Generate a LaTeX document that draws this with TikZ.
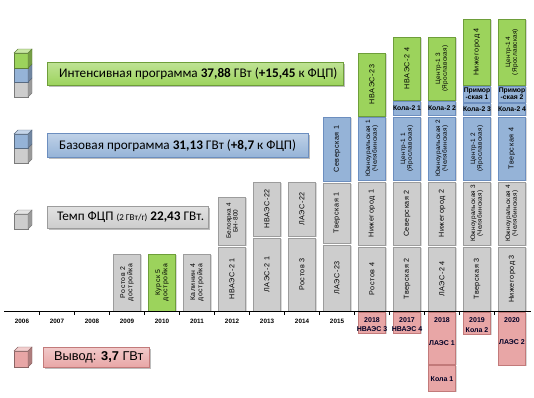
\documentclass[tikz,border=0pt]{standalone}
\usepackage{fontspec}
\setmainfont{Carlito}
\newfontfamily\arf{Liberation Sans}
\newfontfamily\colf[LetterSpace=8]{Liberation Sans}
\newfontfamily\colfs[LetterSpace=4]{Liberation Sans}
\usetikzlibrary{shadows}
\definecolor{gfill}{HTML}{9CD35C}
\definecolor{gdraw}{HTML}{6E9E3A}
\definecolor{bfill}{HTML}{95B3D7}
\definecolor{bdraw}{HTML}{6C8EBF}
\definecolor{sfill}{HTML}{CDCDCD}
\definecolor{sdraw}{HTML}{9C9C9C}
\definecolor{pfill}{HTML}{E8A6A6}
\definecolor{pdraw}{HTML}{C27A7A}
\tikzset{
 bx/.style={rectangle, inner sep=0pt, line width=0.6pt, drop shadow={shadow xshift=1.2pt, shadow yshift=-1.2pt, opacity=0.3}},
 gbx/.style={bx, fill=gfill, draw=gdraw},
 bbx/.style={bx, fill=bfill, draw=bdraw},
 sbx/.style={bx, fill=sfill, draw=sdraw},
 pbx/.style={bx, fill=pfill, draw=pdraw},
 lbx/.style={bx, drop shadow={shadow xshift=2pt, shadow yshift=-2pt, opacity=0.3}},
 coltext/.style={rotate=90, font=\colf\fontsize{7.2}{8}\selectfont, align=center, inner sep=0pt, text=black},
 coltextS/.style={rotate=90, font=\colfs\fontsize{6.4}{6.8}\selectfont, align=center, inner sep=0pt, text=black},
 coltextM/.style={rotate=90, font=\colf\fontsize{6.9}{7.2}\selectfont, align=center, inner sep=0pt, text=black},
 hortext/.style={font=\arf\bfseries\fontsize{6.8}{7}\selectfont, align=center, inner sep=0pt, text=black},
 yeartext/.style={font=\arf\bfseries\fontsize{6.3}{7}\selectfont, inner sep=0pt},
 pinktext/.style={font=\arf\bfseries\fontsize{7}{8}\selectfont, inner sep=0pt, text=black!85!blue},
 legtext/.style={font=\fontsize{13.2}{15}\selectfont, anchor=west, inner sep=0pt},
 cubeline/.style={line width=0.4pt}
}
\newcommand\mybar[7]{%
 \pgfmathsetmacro\mybarcy{(#3+#4)/2}%
 \pgfmathsetmacro\mybarhh{#4-#3}%
 \node[#5, minimum width=27pt, minimum height=\mybarhh pt] (#1) at (#2,\mybarcy) {};
 \node[#6] (#1t) at (#1.center) {#7};}
\newcommand\mycubefront[4]{%
 \filldraw[cubeline, fill=#4, draw=#4!60!black] (#1,#2) rectangle ++(14,#3);
 \filldraw[cubeline, fill=#4!75!black, draw=#4!60!black] (#1+14,#2) -- ++(4,-4) -- ++(0,#3) -- ++(-4,4) -- cycle;}
\newcommand\mycubetop[2]{%
 \filldraw[cubeline, fill=#2!55!white, draw=#2!60!black] (#1) -- ++(4,-4) -- ++(14,0) -- ++(-4,4) -- cycle;}
\begin{document}
\begin{tikzpicture}[x=1pt,y=-1pt]
\useasboundingbox (0,0) rectangle (534,397);
\fill[white] (0,0) rectangle (534,397);

% legend cubes
\mycubefront{14}{82}{15}{sfill}
\mycubefront{14}{68}{14}{bfill}
\mycubefront{14}{53}{15}{gfill}
\mycubetop{14,53}{gfill}
\mycubefront{14}{148}{15}{sfill}
\mycubefront{14}{134}{14}{bfill}
\mycubetop{14,134}{bfill}
\mycubefront{14}{214}{15}{sfill}
\mycubetop{14,214}{sfill}
\mycubefront{14}{351}{16}{pfill}
\mycubetop{14,351}{pfill}

% legend boxes
\node[lbx, draw=gdraw, top color=gfill!65!white, bottom color=gfill, minimum width=296pt, minimum height=23pt, anchor=north west] (lgI) at (47,62) {};
\node[legtext] (lgIt) at ([xshift=12pt]lgI.west) {Интенсивная программа \textbf{37,88} ГВт (\textbf{+15,45} к ФЦП)};
\node[lbx, draw=bdraw, top color=bfill!60!white, bottom color=bfill, minimum width=261pt, minimum height=24pt, anchor=north west] (lgB) at (47,133) {};
\node[legtext] (lgBt) at ([xshift=12pt]lgB.west) {Базовая программа \textbf{31,13} ГВт (\textbf{+8,7} к ФЦП)};
\node[lbx, draw=sdraw, top color=sfill!60!white, bottom color=sfill, minimum width=161pt, minimum height=22pt, anchor=north west] (lgT) at (47,206) {};
\node[legtext] (lgTt) at ([xshift=10pt]lgT.west) {Темп ФЦП {\fontsize{9}{9}\selectfont(2 ГВт/г)} \textbf{22,43} ГВт.};
\node[lbx, draw=pdraw, top color=pfill!60!white, bottom color=pfill, minimum width=106pt, minimum height=20pt, anchor=north west] (lgP) at (43,347) {};
\node[legtext, font=\arf\fontsize{12.8}{14}\selectfont] (lgPt) at ([xshift=11pt]lgP.west) {Вывод: \textbf{3,7} ГВт};

% columns
\mybar{c09a}{127}{254}{311}{sbx}{coltextM}{Ростов 2\\достройка}
\mybar{c10a}{162}{254}{311}{gbx}{coltextM}{Курск 5\\достройка}
\mybar{c11a}{197}{254}{311}{sbx}{coltextM}{Калинин 4\\достройка}
\mybar{c12a}{232}{247}{311}{sbx}{coltext}{НВАЭС-2 1}
\mybar{c12b}{232}{197}{245}{sbx}{coltextS}{Белоярка 4\\БН-800}
\mybar{c13a}{267}{238}{311}{sbx}{coltext}{ЛАЭС-2 1}
\mybar{c13b}{267}{182}{236}{sbx}{coltext}{НВАЭС-22}
\mybar{c14a}{302}{238}{311}{sbx}{coltext}{Ростов 3}
\mybar{c14b}{302}{182}{236}{sbx}{coltext}{ЛАЭС-22}
\mybar{c15a}{337}{245}{311}{sbx}{coltext}{ЛАЭС-23}
\mybar{c15b}{337}{183}{243}{sbx}{coltext}{Тверская 1}
\mybar{c15c}{337}{117}{181}{bbx}{coltext}{Северская 1}
\mybar{c16a}{372}{247}{311}{sbx}{coltext}{Ростов 4}
\mybar{c16b}{372}{182}{245}{sbx}{coltext}{Нижегород 1}
\mybar{c16c}{372}{117}{180}{bbx}{coltextS}{Южноуральская 1\\(Челябинская)}
\mybar{c16d}{372}{53}{116}{gbx}{coltext}{НВАЭС-23}
\mybar{c17a}{407}{247}{311}{sbx}{coltext}{Тверская 2}
\mybar{c17b}{407}{182}{245}{sbx}{coltext}{Северская 2}
\mybar{c17c}{407}{117}{180}{bbx}{coltextS}{Центр-1 1\\(Ярославская)}
\mybar{c17d}{407}{101}{115}{bbx}{hortext}{Кола-2 1}
\mybar{c17e}{407}{37}{100}{gbx}{coltext}{НВАЭС-2 4}
\mybar{c18a}{442}{247}{311}{sbx}{coltext}{ЛАЭС-2 4}
\mybar{c18b}{442}{182}{245}{sbx}{coltext}{Нижегород 2}
\mybar{c18c}{442}{117}{180}{bbx}{coltextS}{Южноуральская 2\\(Челябинская)}
\mybar{c18d}{442}{101}{115}{bbx}{hortext}{Кола-2 2}
\mybar{c18e}{442}{37}{100}{gbx}{coltextS}{Центр-1 3\\(Ярославская)}
\mybar{c19a}{477}{247}{311}{sbx}{coltext}{Тверская 3}
\mybar{c19b}{477}{182}{245}{sbx}{coltextS}{Южноуральская 3\\(Челябинская)}
\mybar{c19c}{477}{117}{180}{bbx}{coltextS}{Центр-1 2\\(Ярославская)}
\mybar{c19d}{477}{103}{115}{bbx}{hortext}{Кола-2 3}
\mybar{c19e}{477}{86}{102}{bbx}{hortext}{Примор\\-ская 1}
\mybar{c19f}{477}{19}{85}{gbx}{coltext}{Нижегород 4}
\mybar{c20a}{512}{247}{311}{sbx}{coltext}{Нижегород 3}
\mybar{c20b}{512}{182}{245}{sbx}{coltextS}{Южноуральская 4\\(Челябинская)}
\mybar{c20c}{512}{117}{180}{bbx}{coltext}{Тверская 4}
\mybar{c20d}{512}{103}{115}{bbx}{hortext}{Кола-2 4}
\mybar{c20e}{512}{86}{102}{bbx}{hortext}{Примор\\-ская 2}
\mybar{c20f}{512}{19}{85}{gbx}{coltextS}{Центр-1 4\\(Ярославская)}

% decommissioning boxes
\mybar{p16}{372}{312}{333}{pbx}{yeartext}{}
\mybar{p17}{407}{312}{333}{pbx}{yeartext}{}
\mybar{p18}{442}{312}{364}{pbx}{yeartext}{}
\mybar{p18b}{442}{365}{391}{pbx}{yeartext}{}
\mybar{p19}{477}{312}{334}{pbx}{yeartext}{}
\mybar{p20}{512}{312}{365}{pbx}{yeartext}{}
\node[pinktext] (p16y) at (372,320) {2018};
\node[pinktext] (p16n) at (372,329) {НВАЭС 3};
\node[pinktext] (p17y) at (407,320) {2017};
\node[pinktext] (p17n) at (407,329) {НВАЭС 4};
\node[pinktext] (p18y) at (442,320) {2018};
\node[pinktext] (p18n) at (442,343) {ЛАЭС 1};
\node[pinktext] (p18k) at (442,379) {Кола 1};
\node[pinktext] (p19y) at (477,320) {2019};
\node[pinktext] (p19n) at (477,330) {Кола 2};
\node[pinktext] (p20y) at (512,320) {2020};
\node[pinktext] (p20n) at (512,342) {ЛАЭС 2};

% axis
\coordinate (axL) at (4,311);
\coordinate (axR) at (531,311);
\draw[line width=0.9pt] (axL) -- (axR);
\foreach \i in {0,...,13} {
  \coordinate (tk\i) at ({39.5+35*\i},311);
  \draw[line width=0.8pt] (tk\i) -- ++(0,4);
}
\foreach \yr [count=\i from 0] in {2006,...,2015}
  \node[yeartext] (yr\yr) at ({22+35*\i},321) {\yr};
\end{tikzpicture}
\end{document}
